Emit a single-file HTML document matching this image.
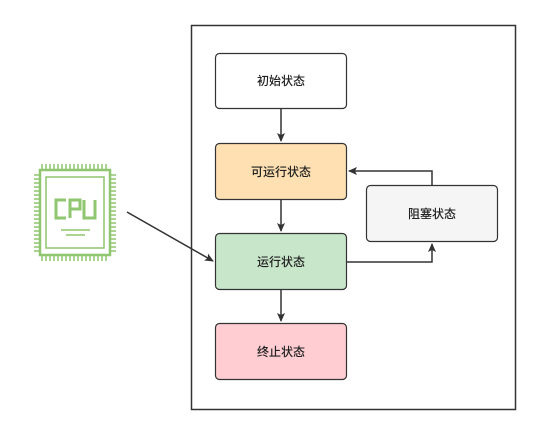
<!DOCTYPE html><html><head><style>body{margin:0;background:#fff}</style></head><body>
<svg width="540" height="435" xmlns="http://www.w3.org/2000/svg" font-family="Liberation Sans, Noto Sans CJK SC, sans-serif" font-size="12">
<defs><marker id="a" markerWidth="10" markerHeight="10" refX="8" refY="5" orient="auto" markerUnits="userSpaceOnUse"><path d="M0,1 L9,5 L0,9 L2,5z" fill="#333"/></marker></defs>
<rect x="191.5" y="25.5" width="324" height="384" fill="#fff" stroke="#333" stroke-width="1.5"/>
<g stroke="#333" stroke-width="1.2">
<rect x="215.5" y="53.5" width="131" height="55" rx="4" fill="#fff"/>
<rect x="215.5" y="143.5" width="131" height="56" rx="4" fill="#ffe0b2"/>
<rect x="215.5" y="233.5" width="131" height="56" rx="4" fill="#c8e6c9"/>
<rect x="215.5" y="323.5" width="131" height="56" rx="4" fill="#ffcdd2"/>
<rect x="366.5" y="185.5" width="131" height="56" rx="4" fill="#f5f5f5"/>
</g>
<g fill="#222" text-anchor="middle" font-weight="500">
<text x="281" y="85">初始状态</text><text x="281" y="176">可运行状态</text><text x="281" y="266">运行状态</text><text x="281" y="356">终止状态</text><text x="432" y="218">阻塞状态</text>
</g>
<g stroke="#333" stroke-width="1.5" fill="none" marker-end="url(#a)">
<line x1="281" y1="109" x2="281" y2="141"/>
<line x1="281" y1="200" x2="281" y2="231"/>
<line x1="281" y1="290" x2="281" y2="321"/>
<line x1="127" y1="212" x2="213" y2="261"/>
<polyline points="347,262 432,262 432,244"/>
<polyline points="432,185 432,171 349,171"/>
</g>
<g stroke="#8fc66f" fill="none">
<path d="M42,164V170 M46,164V170 M50,164V170 M54,164V170 M58,164V170 M62,164V170 M66,164V170 M70,164V170 M74,164V170 M78,164V170 M82,164V170 M86,164V170 M90,164V170 M94,164V170 M98,164V170 M102,164V170 M106,164V170 M42,255V261 M46,255V261 M50,255V261 M54,255V261 M58,255V261 M62,255V261 M66,255V261 M70,255V261 M74,255V261 M78,255V261 M82,255V261 M86,255V261 M90,255V261 M94,255V261 M98,255V261 M102,255V261 M106,255V261" stroke-width="1.5"/>
<path d="M34,175H40 M34,179H40 M34,183H40 M34,187H40 M34,191H40 M34,195H40 M34,199H40 M34,203H40 M34,207H40 M34,211H40 M34,215H40 M34,219H40 M34,223H40 M34,227H40 M34,231H40 M34,235H40 M34,239H40 M34,243H40 M34,247H40 M34,251H40 M110,175H116 M110,179H116 M110,183H116 M110,187H116 M110,191H116 M110,195H116 M110,199H116 M110,203H116 M110,207H116 M110,211H116 M110,215H116 M110,219H116 M110,223H116 M110,227H116 M110,231H116 M110,235H116 M110,239H116 M110,243H116 M110,247H116 M110,251H116" stroke-width="1.5"/>
<rect x="40" y="170" width="70" height="85" stroke-width="2.5" fill="#fff"/>
<rect x="46" y="177" width="58" height="71" stroke-width="1.5"/>
<path d="M66,200H56V218H66 M70,218V200H80V209H70 M84,200V218H95V200" stroke-width="3"/>
<path d="M61,230H90 M66,235H85" stroke-width="1.5"/>
</g>
</svg></body></html>
